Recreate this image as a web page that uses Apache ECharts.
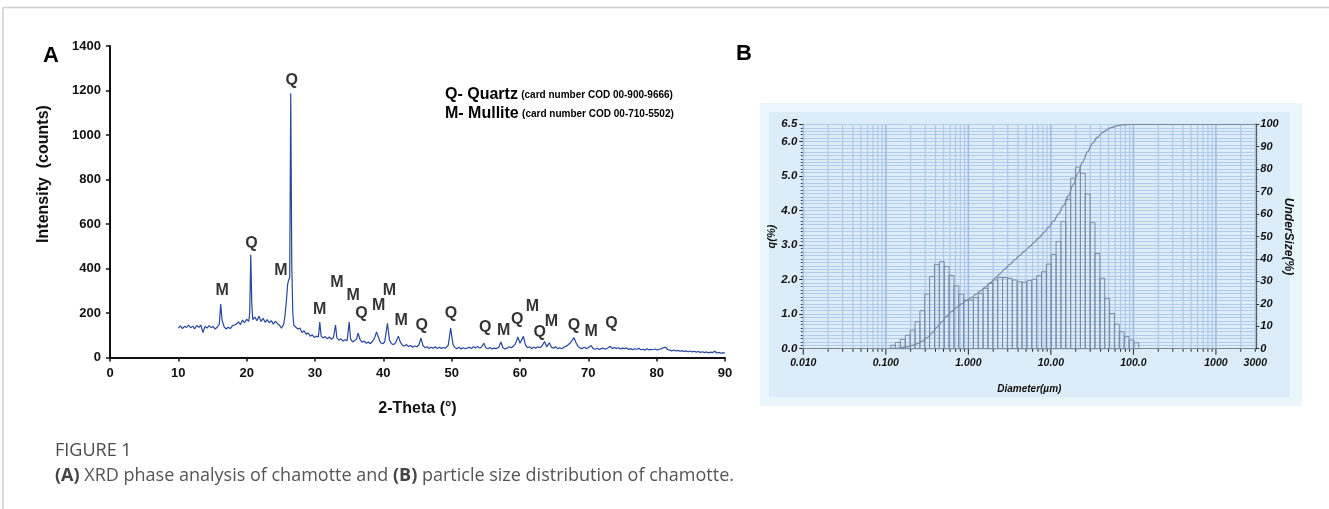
<!DOCTYPE html>
<html>
<head>
<meta charset="utf-8">
<title>Figure 1</title>
<script src="https://cdn.jsdelivr.net/npm/echarts@6/dist/echarts.min.js"></script>
<style>
html, body { margin: 0; padding: 0; background: #fff; }
#chart { width: 1329px; height: 509px; }
</style>
</head>
<body>
<div id="chart"></div>
<script>
// ---- (A) XRD pattern: [2-Theta (deg), intensity (counts)]
var xrdPattern = [
  [10.0,132],[10.3,142],[10.6,130],[10.9,140],[11.2,135],[11.5,146],[11.8,133],[12.1,141],[12.4,129],[12.7,144],
  [13.0,136],[13.3,145],[13.6,112],[13.9,140],[14.2,132],[14.5,143],[14.8,134],[15.1,139],[15.4,128],[15.7,137],
  [16.0,150],[16.2,240],[16.4,168],[16.7,138],[17.0,128],[17.3,136],[17.6,130],[17.9,142],[18.2,146],[18.5,150],
  [18.8,160],[19.1,148],[19.4,168],[19.7,156],[20.0,172],[20.3,162],[20.45,200],[20.6,462],[20.75,240],[20.9,170],
  [21.2,182],[21.5,165],[21.8,185],[22.1,162],[22.4,176],[22.7,158],[23.0,170],[23.3,156],[23.6,166],[23.9,150],
  [24.2,163],[24.5,152],[24.8,145],[25.1,132],[25.4,148],[25.6,185],[25.8,250],[26.0,330],[26.15,349],[26.3,360],
  [26.45,1188],[26.6,420],[26.75,200],[26.9,145],[27.2,136],[27.5,128],[27.8,132],[28.1,112],[28.4,120],[28.7,105],
  [29.0,110],[29.3,96],[29.6,102],[29.9,90],[30.2,96],[30.5,92],[30.7,159],[30.9,96],[31.2,88],[31.5,94],
  [31.8,84],[32.1,92],[32.4,82],[32.7,90],[33.0,146],[33.2,88],[33.5,78],[33.8,84],[34.1,74],[34.4,80],
  [34.7,76],[35.0,159],[35.2,84],[35.5,70],[35.8,76],[36.1,84],[36.3,110],[36.6,80],[36.9,68],[37.2,74],
  [37.5,64],[37.8,70],[38.1,62],[38.4,72],[38.7,86],[39.0,115],[39.3,90],[39.6,66],[39.9,62],[40.2,70],
  [40.6,154],[40.9,78],[41.2,62],[41.5,58],[41.8,66],[42.2,96],[42.5,68],[42.8,55],[43.1,52],[43.4,58],
  [43.7,49],[44.0,54],[44.3,46],[44.6,52],[44.9,48],[45.2,56],[45.5,87],[45.8,54],[46.1,44],[46.4,48],
  [46.7,40],[47.0,46],[47.3,42],[47.6,48],[47.9,40],[48.2,46],[48.5,41],[48.8,45],[49.1,42],[49.5,55],
  [49.85,132],[50.2,58],[50.5,44],[50.8,40],[51.1,46],[51.4,38],[51.7,44],[52.0,39],[52.3,43],[52.6,46],
  [52.9,40],[53.2,48],[53.5,43],[53.8,50],[54.1,42],[54.4,48],[54.7,64],[55.0,44],[55.3,39],[55.6,45],
  [55.9,38],[56.2,42],[56.5,40],[56.9,46],[57.2,70],[57.5,44],[57.8,38],[58.1,42],[58.4,48],[58.7,44],
  [59.0,50],[59.3,60],[59.7,92],[60.0,64],[60.2,68],[60.5,95],[60.8,56],[61.1,44],[61.4,48],[61.7,40],
  [62.0,46],[62.3,42],[62.6,48],[62.9,44],[63.2,52],[63.6,72],[63.9,48],[64.3,66],[64.6,46],[64.9,42],
  [65.2,48],[65.5,40],[65.8,44],[66.1,39],[66.4,46],[66.7,50],[67.0,56],[67.3,64],[67.6,76],[67.9,89],
  [68.2,66],[68.5,50],[68.8,42],[69.1,40],[69.4,46],[69.7,40],[70.0,44],[70.4,54],[70.7,40],[71.0,37],
  [71.3,42],[71.6,36],[71.9,40],[72.2,42],[72.5,37],[72.9,44],[73.2,51],[73.5,40],[73.8,45],[74.1,41],
  [74.4,44],[74.7,38],[75.0,42],[75.3,40],[75.6,43],[75.9,36],[76.2,40],[76.5,35],[76.8,39],[77.1,37],
  [77.4,41],[77.7,35],[78.0,37],[78.3,33],[78.6,39],[78.9,34],[79.2,37],[79.5,35],[79.8,38],[80.1,34],
  [80.4,37],[80.7,40],[81.0,44],[81.3,46],[81.6,36],[81.9,33],[82.2,30],[82.5,34],[82.8,29],[83.1,32],
  [83.4,28],[83.7,31],[84.0,27],[84.3,30],[84.6,26],[84.9,29],[85.2,25],[85.5,28],[85.8,24],[86.1,27],
  [86.4,23],[86.7,26],[87.0,22],[87.3,25],[87.6,21],[87.9,24],[88.2,22],[88.5,28],[88.8,20],[89.1,23],
  [89.4,19],[89.7,22],[90.0,19]
];

// phase labels: [2-Theta, counts, phase]
var phaseLabels = [
  [16.4,301,'M'],[20.7,514,'Q'],[25.0,390,'M'],[26.6,1244,'Q'],[30.7,217,'M'],[33.2,337,'M'],
  [35.6,277,'M'],[36.8,199,'Q'],[39.3,232,'M'],[40.9,300,'M'],[42.6,165,'M'],[45.6,142,'Q'],
  [49.9,196,'Q'],[54.9,136,'Q'],[57.6,121,'M'],[59.6,169,'Q'],[61.8,229,'M'],[62.9,113,'Q'],
  [64.6,161,'M'],[67.9,142,'Q'],[70.4,116,'M'],[73.4,154,'Q']
];

// ---- (B) particle size distribution
// channel edges (um)
var binEdges = [
  0.115,0.131,0.150,0.172,0.197,0.226,0.259,0.296,0.339,0.389,0.445,0.510,0.584,0.669,0.766,0.877,
  1.005,1.151,1.318,1.509,1.729,1.980,2.268,2.597,2.975,3.408,3.903,4.470,5.120,5.864,6.716,7.692,
  8.810,10.09,11.56,13.24,15.17,17.37,19.90,22.79,26.10,29.90,34.24,39.23,44.92,51.45,58.93,67.49,
  77.30,88.53,101.4,116.1
];
// frequency q (%) per channel
var qPercent = [
  0.10,0.18,0.27,0.39,0.54,0.78,1.10,1.58,2.09,2.44,
  2.52,2.38,2.12,1.82,1.58,1.41,1.41,1.48,1.60,1.75,
  1.89,1.99,2.06,2.06,2.04,1.99,1.94,1.93,1.97,2.01,
  2.11,2.23,2.45,2.73,3.10,3.68,4.33,4.94,5.26,5.08,
  4.48,3.65,2.76,2.04,1.46,1.02,0.71,0.49,0.35,0.25,0.17
];
// undersize (%) per channel
var undersize = [
  0.10,0.28,0.55,0.94,1.48,2.26,3.36,4.94,7.03,9.47,
  11.99,14.37,16.49,18.31,19.89,21.30,22.71,24.19,25.79,27.54,
  29.43,31.42,33.48,35.54,37.58,39.57,41.51,43.44,45.41,47.42,
  49.53,51.76,54.21,56.94,60.04,63.72,68.05,72.99,78.25,83.33,
  87.81,91.46,94.22,96.26,97.6,98.6,99.3,99.7,99.9,100,100
];
var sizeMin = 0.01, sizeMax = 3000;
var sizeTickLabels = ['0.010','0.100','1.000','10.00','100.0','1000','3000'];

function lg(v) { return Math.log10(v); }

// log grid lines 1..9 x each decade
var logGrid = [];
for (var e = -2; e <= 3; e++) {
  for (var k = 1; k <= 9; k++) {
    var v = k * Math.pow(10, e);
    if (v <= sizeMax) logGrid.push([lg(v), 0, k === 1 ? 1 : 0]);
  }
}

var binData = qPercent.map(function (q, i) {
  return [lg(binEdges[i]), lg(binEdges[i + 1]), q];
});
var cumData = [[lg(0.1), 0]];
undersize.forEach(function (u, i) {
  cumData.push([(lg(binEdges[i]) + lg(binEdges[i + 1])) / 2, u]);
});
cumData.push([lg(sizeMax), 100]);

var arial = '"Liberation Sans", Arial, sans-serif';
var capFont = '"Open Sans", "Noto Sans", sans-serif';
var bLabel = { fontFamily: arial, fontWeight: 'bold', fontStyle: 'italic', fontSize: 10.5, color: '#111' };

var chart = echarts.init(document.getElementById('chart'));
var option = {
  animation: false,
  backgroundColor: '#fff',
  graphic: [
    { type: 'line', z: -1, shape: { x1: 3, y1: 7.5, x2: 1329, y2: 7.5 }, style: { stroke: '#cfcfcf', lineWidth: 1.5 } },
    { type: 'line', z: -1, shape: { x1: 3, y1: 7.5, x2: 3, y2: 509 }, style: { stroke: '#cfcfcf', lineWidth: 1.5 } },
    { type: 'rect', z: -1, shape: { x: 760, y: 103, width: 542, height: 303 }, style: { fill: '#e9f7fc' } },
    { type: 'rect', z: -1, shape: { x: 769, y: 112, width: 521, height: 285 }, style: { fill: '#dcedf9' } },
    { type: 'text', z: 100, x: 43, y: 56, style: { text: 'A', font: 'bold 22px ' + arial, fill: '#000', verticalAlign: 'middle' } },
    { type: 'text', z: 100, x: 736, y: 54, style: { text: 'B', font: 'bold 22px ' + arial, fill: '#000', verticalAlign: 'middle' } },
    { type: 'text', z: 100, x: 44, y: 174, rotation: Math.PI / 2, style: {
        text: 'Intensity  (counts)', font: 'bold 16px ' + arial, fill: '#111', align: 'center', verticalAlign: 'middle' } },
    { type: 'text', z: 100, x: 445, y: 103, style: {
        text: '{b|Q- Quartz} {s|(card number COD 00-900-9666)}',
        verticalAlign: 'bottom',
        rich: { b: { font: 'bold 16px ' + arial, fill: '#000' }, s: { font: 'bold 10px ' + arial, fill: '#000' } } } },
    { type: 'text', z: 100, x: 445, y: 122, style: {
        text: '{b|M- Mullite} {s|(card number COD 00-710-5502)}',
        verticalAlign: 'bottom',
        rich: { b: { font: 'bold 16px ' + arial, fill: '#000' }, s: { font: 'bold 10px ' + arial, fill: '#000' } } } },
    { type: 'text', z: 100, x: 55, y: 451, style: { text: 'FIGURE 1', font: '18px ' + capFont, fill: '#4a4a4a', verticalAlign: 'middle' } },
    { type: 'text', z: 100, x: 55, y: 476, style: {
        text: '{b|(A)} XRD phase analysis of chamotte and {b|(B)} particle size distribution of chamotte.',
        font: '18px ' + capFont, fill: '#555', verticalAlign: 'middle',
        rich: { b: { font: 'bold 18px ' + capFont, fill: '#444' } } } }
  ],
  grid: [
    { left: 110, top: 46, width: 615, height: 311.5 },
    { left: 803.3, top: 124.3, width: 452, height: 224.4 }
  ],
  xAxis: [
    {
      gridIndex: 0, type: 'value', min: 0, max: 90, interval: 10,
      name: '2-Theta (°)', nameLocation: 'middle', nameGap: 43,
      nameTextStyle: { fontFamily: arial, fontWeight: 'bold', fontSize: 16, color: '#111' },
      axisLine: { onZero: false, lineStyle: { color: '#111', width: 2 } },
      axisTick: { length: 4, lineStyle: { color: '#111', width: 1.5 } },
      axisLabel: { margin: 9, fontFamily: arial, fontWeight: 'bold', fontSize: 13, color: '#111' },
      splitLine: { show: false }
    },
    {
      gridIndex: 1, type: 'value', min: lg(sizeMin), max: lg(sizeMax), interval: 1,
      name: 'Diameter(µm)', nameLocation: 'middle', nameGap: 36,
      nameTextStyle: { fontFamily: arial, fontWeight: 'bold', fontStyle: 'italic', fontSize: 10, color: '#111' },
      axisLine: { onZero: false, lineStyle: { color: '#777', width: 1, type: 'dotted' } },
      axisTick: { show: false },
      axisLabel: Object.assign({ margin: 9, formatter: function (v) {
        if (v > 3.2) return sizeTickLabels[6];
        return sizeTickLabels[Math.round(v) + 2];
      } }, bLabel),
      splitLine: { show: false }
    }
  ],
  yAxis: [
    {
      gridIndex: 0, type: 'value', min: 0, max: 1400, interval: 200,
      axisLine: { show: true, onZero: false, lineStyle: { color: '#111', width: 2 } },
      axisTick: { show: true, length: 4, lineStyle: { color: '#111', width: 1.5 } },
      axisLabel: { margin: 9, formatter: function (v) { return String(v); },
        fontFamily: arial, fontWeight: 'bold', fontSize: 13, color: '#111' },
      splitLine: { show: false }
    },
    {
      gridIndex: 1, type: 'value', min: 0, max: 6.5, interval: 1,
      name: 'q(%)', nameLocation: 'middle', nameGap: 26, nameRotate: 90,
      nameTextStyle: { fontFamily: arial, fontWeight: 'bold', fontStyle: 'italic', fontSize: 11, color: '#111' },
      axisLine: { show: true, onZero: false, lineStyle: { color: '#222', width: 1 } },
      axisTick: { show: true, length: 4, lineStyle: { color: '#222' } },
      minorTick: { show: true, splitNumber: 10, length: 2.5, lineStyle: { color: '#333' } },
      axisLabel: Object.assign({}, bLabel, { margin: 6, fontSize: 11.5, formatter: function (v) { return v.toFixed(1); } }),
      splitLine: { show: true, lineStyle: { color: '#b2cceb', width: 1 } },
      minorSplitLine: { show: true, lineStyle: { color: '#b2cceb', width: 1 } }
    },
    {
      gridIndex: 1, type: 'value', min: 0, max: 100, interval: 10, position: 'right',
      name: 'UnderSize(%)', nameLocation: 'middle', nameGap: 26, nameRotate: -90,
      nameTextStyle: { fontFamily: arial, fontWeight: 'bold', fontStyle: 'italic', fontSize: 12, color: '#111' },
      axisLine: { show: true, onZero: false, lineStyle: { color: '#333', width: 1.5 } },
      axisTick: { show: true, length: 4, lineStyle: { color: '#333' } },
      minorTick: { show: true, splitNumber: 10, length: 2, lineStyle: { color: '#555' } },
      axisLabel: Object.assign({}, bLabel, { margin: 5, fontSize: 11 }),
      splitLine: { show: false }
    }
  ],
  series: [
    {
      name: 'XRD', type: 'line', xAxisIndex: 0, yAxisIndex: 0,
      data: xrdPattern, showSymbol: false, symbol: 'none',
      lineStyle: { color: '#26479c', width: 1.2 }, z: 3
    },
    {
      name: 'phases', type: 'scatter', xAxisIndex: 0, yAxisIndex: 0,
      data: phaseLabels, symbolSize: 0,
      label: {
        show: true, position: 'inside', formatter: function (p) { return p.value[2]; },
        fontFamily: arial, fontWeight: 'bold', fontSize: 16, color: '#000', textBorderWidth: 0
      }, z: 4
    },
    {
      name: 'logGrid', type: 'custom', xAxisIndex: 1, yAxisIndex: 1,
      data: logGrid, encode: { x: 0, y: 1 }, clip: false, silent: true, z: 1,
      renderItem: function (params, api) {
        var cs = params.coordSys;
        var x = api.coord([api.value(0), 0])[0];
        var major = api.value(2) === 1;
        var bottom = cs.y + cs.height;
        return {
          type: 'group',
          children: [
            { type: 'line', shape: { x1: x, y1: cs.y, x2: x, y2: bottom },
              style: { stroke: major ? '#a2bde2' : '#b0c9e9', lineWidth: major ? 1.6 : 1.2 } },
            { type: 'line', shape: { x1: x, y1: bottom, x2: x, y2: bottom + (major ? 6 : 3) },
              style: { stroke: '#222', lineWidth: 1 } }
          ]
        };
      }
    },
    {
      name: 'q', type: 'custom', xAxisIndex: 1, yAxisIndex: 1,
      data: binData, encode: { x: [0, 1], y: 2 }, z: 2,
      renderItem: function (params, api) {
        var p0 = api.coord([api.value(0), api.value(2)]);
        var p1 = api.coord([api.value(1), 0]);
        return {
          type: 'rect',
          shape: { x: p0[0], y: p0[1], width: p1[0] - p0[0], height: p1[1] - p0[1] },
          style: { fill: 'rgba(255,255,255,0)', stroke: '#7b8aa4', lineWidth: 1 }
        };
      }
    },
    {
      name: 'UnderSize', type: 'line', xAxisIndex: 1, yAxisIndex: 2,
      data: cumData, showSymbol: false, symbol: 'none', smooth: 0.4, smoothMonotone: 'x',
      lineStyle: { color: '#7b8aa4', width: 1.3 }, z: 3
    }
  ]
};
chart.setOption(option);
</script>
</body>
</html>
